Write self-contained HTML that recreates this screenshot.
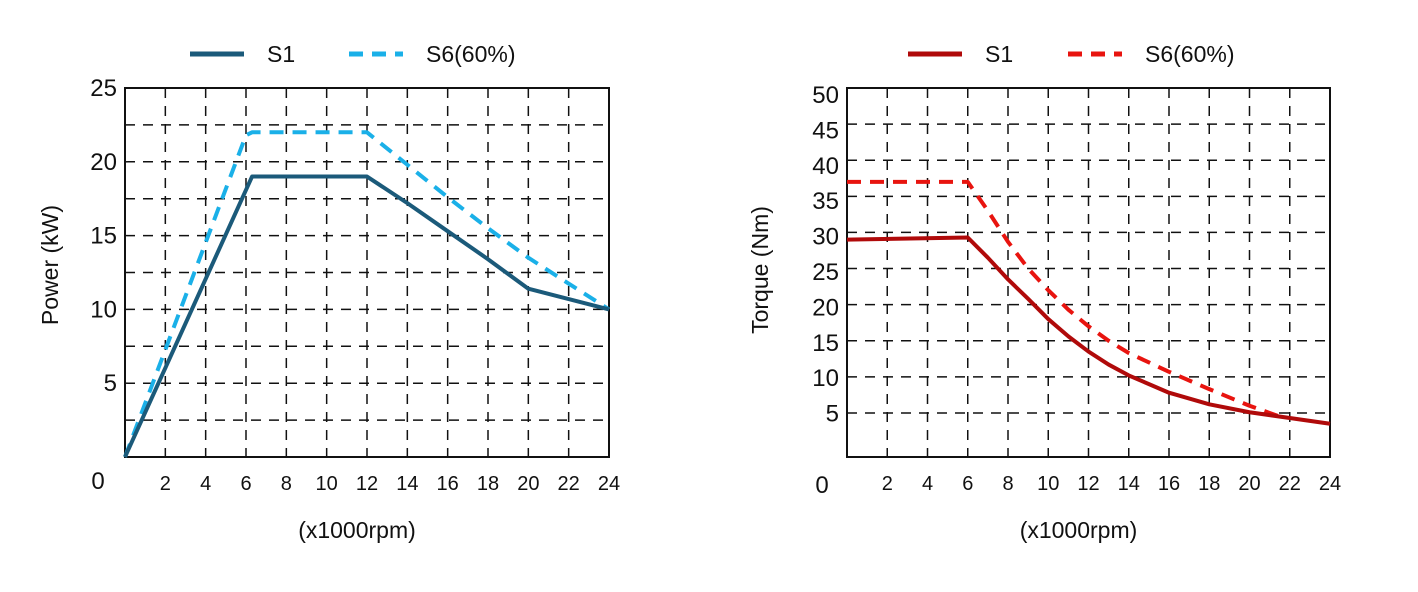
<!DOCTYPE html>
<html><head><meta charset="utf-8"><style>
body{margin:0;background:#fff;width:1418px;height:587px;overflow:hidden;font-family:"Liberation Sans",sans-serif}
svg text{font-family:"Liberation Sans",sans-serif;fill:#111}
</style></head><body>
<svg id="c" width="1418" height="587"></svg>
<script>
const xTicks=[2,4,6,8,10,12,14,16,18,20,22,24];
const pTicks=[5,10,15,20,25];
const tTicks=[5,10,15,20,25,30,35,40,45,50];
const pS1X=[0,6.3,12,14,16,18,20,24];
const pS1Y=[0,19,19,17.2,15.3,13.4,11.4,10];
const pS6X=[0,6,6.3,12,14,16,18,20,24];
const pS6Y=[0,21.8,22,22,19.8,17.6,15.5,13.5,10];
const tS1X=[0,6,7,8,9,10,11,12,13,14,16,18,20,22,24];
const tS1Y=[29,29.3,26.5,23.5,20.8,18,15.6,13.5,11.7,10.2,7.8,6.2,5.1,4.3,3.5];
const tS6X=[0,6,7,8,9,10,11,12,13,14,16,18,20,21.5];
const tS6Y=[37,37,33,28.7,25,22,19.3,17,15,13.3,10.7,8.3,6,4.5];
const NS="http://www.w3.org/2000/svg";
const svg=document.getElementById('c');
function mk(t,a,p){const e=document.createElementNS(NS,t);for(const k in a)e.setAttribute(k,a[k]);(p||svg).appendChild(e);return e;}
function chart(o){
  const g=mk('g',{});
  
  
  const sx=v=>o.x0+(v/24)*(o.x1-o.x0);
  const sy=v=>o.y1-(v-o.ymin)/(o.ymax-o.ymin)*(o.y1-o.y0);
  xTicks.forEach(t=>{ if(t<24){const l=mk('line',{x1:sx(t),x2:sx(t),y1:o.y0,y2:o.y1,stroke:'#111','stroke-width':1.5,'stroke-dasharray':'10,8'},g);
    
    }
    const tx=mk('text',{x:sx(t),y:490,'font-size':20,'text-anchor':'middle'},g);tx.textContent=t;
    
    });
  o.yTicks.forEach(t=>{ const y=sy(t); if(t<o.ymax){ const l=mk('line',{x1:o.x0,x2:o.x1,y1:y,y2:y,stroke:'#111','stroke-width':1.5,'stroke-dasharray':'10,8'},g);
    
    }
    const tx=mk('text',{x:o.x0-8,y:y+8+o.lblOff*(t/o.ymax),'font-size':24,'text-anchor':'end'},g);tx.textContent=t;
    
    });
  o.half.forEach(t=>{const y=sy(t);const l=mk('line',{x1:o.x0,x2:o.x1,y1:y,y2:y,stroke:'#111','stroke-width':1.5,'stroke-dasharray':'10,8'},g);
    
    });
  const z=mk('text',{x:o.zx,y:o.zy,'font-size':24,'text-anchor':'middle'},g);z.textContent='0';
  
  
  const fr=mk('rect',{x:o.x0,y:o.y0,width:o.x1-o.x0,height:o.y1-o.y0,fill:'none',stroke:'#111','stroke-width':2},g);
  
  
  o.series.forEach(s=>{
    const pts=s.x.map((v,i)=>sx(v)+','+sy(s.y[i])).join(' ');
    const pl=mk('polyline',{points:pts,fill:'none',stroke:s.c,'stroke-width':4,'stroke-dasharray':s.d||'none','stroke-linejoin':'round'},g);
    
    
  });
  const yt=mk('text',{x:0,y:0,'font-size':23,'text-anchor':'middle',transform:`translate(${o.ytx},${o.yty}) rotate(-90)`},g);yt.textContent=o.ytitle;
  
  
  const xt=mk('text',{x:(o.x0+o.x1)/2-10,y:538,'font-size':23,'text-anchor':'middle'},g);xt.textContent='(x1000rpm)';
  
  
  o.legend.forEach(L=>{
    const ln=mk('line',{x1:L.x,x2:L.x+54,y1:54,y2:54,stroke:L.c,'stroke-width':5,'stroke-dasharray':L.d||'none'},g);
    
    
    const tx=mk('text',{x:L.x+77,y:62,'font-size':23},g);tx.textContent=L.t;
    
    
  });
}
chart({name:'power-chart',x0:125,x1:609,y0:88,y1:457,ymin:0,ymax:25,yTicks:pTicks,half:[2.5,7.5,12.5,17.5,22.5],lblOff:0,
  zx:98,zy:489,ytitle:'Power (kW)',ytx:58,yty:265,
  series:[{x:pS6X,y:pS6Y,c:'#1ab0e8',d:'14,9',n:'power-s6-line'},{x:pS1X,y:pS1Y,c:'#1b5a7a',n:'power-s1-line'}],
  legend:[{x:190,c:'#1b5a7a',t:'S1'},{x:349,c:'#1ab0e8',d:'14,9',t:'S6(60%)'}]});
chart({name:'torque-chart',x0:847,x1:1330,y0:88,y1:457,ymin:-1.1,ymax:50,yTicks:tTicks,half:[],lblOff:7,
  zx:822,zy:493,ytitle:'Torque  (Nm)',ytx:768,yty:270,
  series:[{x:tS6X,y:tS6Y,c:'#e8140f',d:'14,9',n:'torque-s6-line'},{x:tS1X,y:tS1Y,c:'#b00a0a',n:'torque-s1-line'}],
  legend:[{x:908,c:'#b00a0a',t:'S1'},{x:1068,c:'#e8140f',d:'14,9',t:'S6(60%)'}]});
</script>
</body></html>
